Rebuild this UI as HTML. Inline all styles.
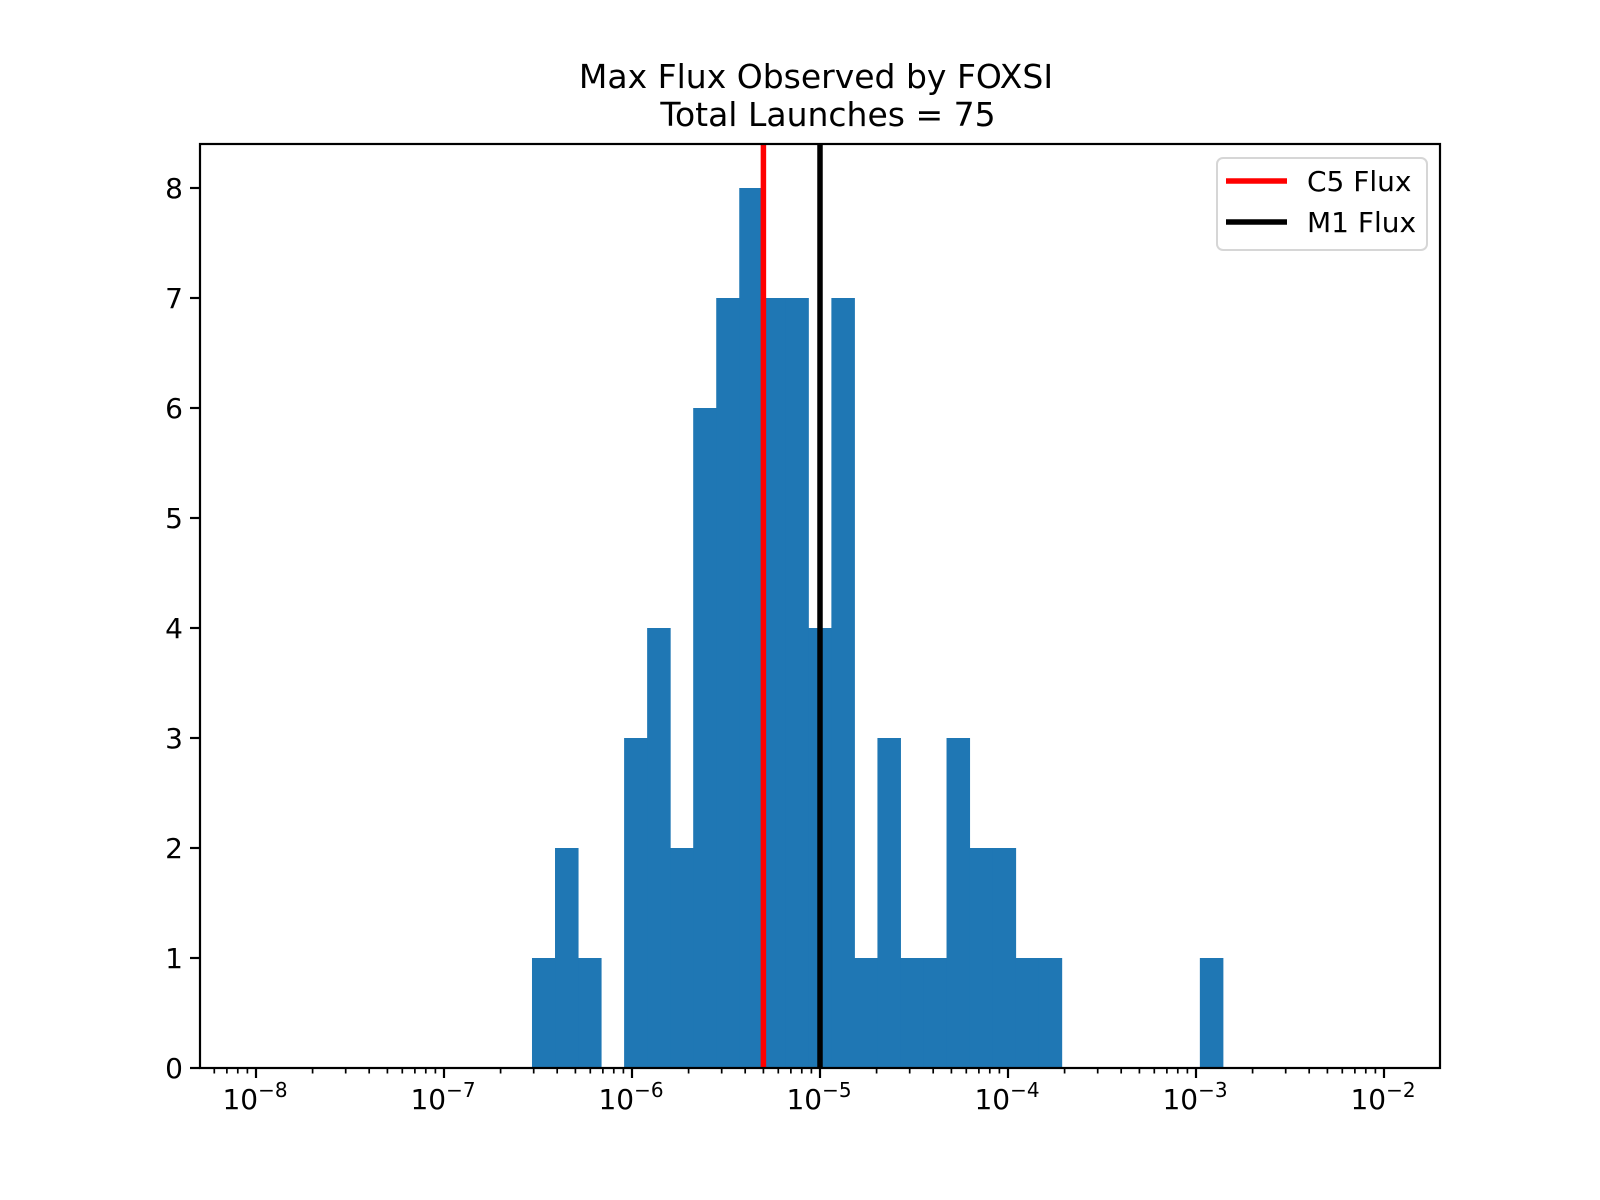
<!DOCTYPE html>
<html><head><meta charset="utf-8"><style>
html,body{margin:0;padding:0;background:#fff;}
svg{display:block;font-family:"DejaVu Sans","Liberation Sans",sans-serif;}
</style></head><body>
<svg id="chart" width="1600" height="1200" xmlns="http://www.w3.org/2000/svg">
<rect width="1600" height="1200" fill="#fff"/>
<text x="816" y="88" font-size="33" text-anchor="middle">Max Flux Observed by FOXSI</text>
<text x="828" y="126" font-size="33" text-anchor="middle">Total Launches = 75</text>
<g id="plot"></g>
</svg>
<script>
const counts = [1,2,1,0,3,4,2,6,7,8,7,7,4,7,1,3,1,1,3,2,2,1,1,0,0,0,0,0,0,1];
const binStartLog = -6.532;
const binWidthLog = 0.1225;
const yTicks = [0,1,2,3,4,5,6,7,8];
const xDecades = [-8,-7,-6,-5,-4,-3,-2];
const refLineLogs = [Math.log10(5e-6), Math.log10(1e-5)];
const refLineNames = ["C5 Flux","M1 Flux"];
const refLineColors = ["#ff0000","#000000"];

const L=200,R=1440,T=144,B=1068;
const xs = lg => 820 + (lg + 5) * 188;
const ys = v => B - v * (B - T) / 8.4;
const NS="http://www.w3.org/2000/svg";
const g=document.getElementById('plot');
function mk(tag,attrs,parent){const e=document.createElementNS(NS,tag);for(const k in attrs)e.setAttribute(k,attrs[k]);(parent||g).appendChild(e);return e;}

counts.forEach((c,i)=>{
  if(c<=0) return;
  const x0=xs(binStartLog+i*binWidthLog), x1=xs(binStartLog+(i+1)*binWidthLog);
  const r=mk('rect',{x:x0,y:ys(c),width:x1-x0+0.5,height:ys(0)-ys(c),fill:'#1f77b4'});
  
  
});
refLineLogs.forEach((lg,i)=>{
  const l=mk('line',{x1:xs(lg),x2:xs(lg),y1:T,y2:B,stroke:refLineColors[i],'stroke-width':5.5});
  
  
});
yTicks.forEach(v=>{
  const y=ys(v);
  const t=mk('line',{x1:L-10,x2:L,y1:y,y2:y,stroke:'#000','stroke-width':2.2});
  
  
  const tx=mk('text',{x:L-17,y:y+10,'font-size':28,'text-anchor':'end'});
  tx.textContent=v;
  
  
});
for(let d=-9;d<=-2;d++){
  for(let m=2;m<=9;m++){
    const x=xs(d+Math.log10(m));
    if(x<L||x>R) continue;
    const t=mk('line',{x1:x,x2:x,y1:B,y2:B+5.5,stroke:'#000','stroke-width':1.7});
    
    
  }
}
xDecades.forEach(d=>{
  const x=xs(d);
  const t=mk('line',{x1:x,x2:x,y1:B,y2:B+10,stroke:'#000','stroke-width':2.2});
  
  
  const tx=mk('text',{x:x-1,y:1109,'font-size':28,'text-anchor':'middle'});
  
  
  tx.appendChild(document.createTextNode('10'));
  const sp=document.createElementNS(NS,'tspan');
  sp.setAttribute('font-size','20');sp.setAttribute('dy','-12');
  sp.textContent='\u2212'+(-d);
  tx.appendChild(sp);
});
const fr=mk('rect',{x:L,y:T,width:R-L,height:B-T,fill:'none',stroke:'#000','stroke-width':2.2});


const lg=mk('g',{});


mk('rect',{x:1217,y:158,width:210,height:92,rx:6,fill:'#fff','fill-opacity':0.8,stroke:'#d6d6d6','stroke-width':2},lg);
refLineNames.forEach((n,i)=>{
  const y=181+i*41;
  const e=mk('g',{},lg);
  
  
  mk('line',{x1:1226,x2:1287,y1:y,y2:y,stroke:refLineColors[i],'stroke-width':5.5},e);
  const t=mk('text',{x:1307,y:y+10,'font-size':28},e);
  t.textContent=n;
});
</script>
</body></html>
